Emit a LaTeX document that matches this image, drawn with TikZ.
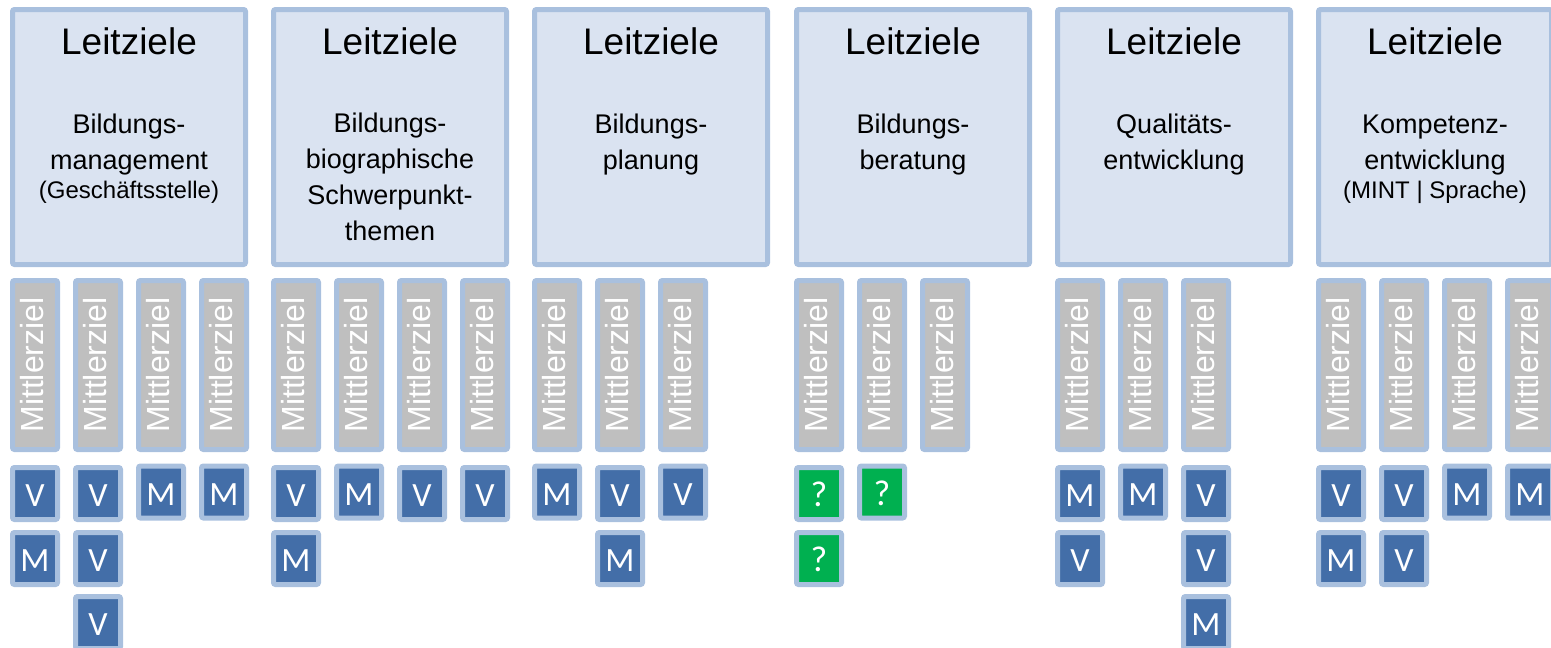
\documentclass[tikz,border=0pt]{standalone}
\usepackage{fontspec}
\setmainfont{Liberation Sans}
\newfontfamily\calib{Carlito}

\definecolor{bord}{RGB}{169,192,222}
\definecolor{leitfill}{RGB}{218,227,241}
\definecolor{zielgray}{RGB}{191,191,191}
\definecolor{massblue}{RGB}{67,110,168}
\definecolor{fragegreen}{RGB}{0,176,80}

\tikzset{
  leit/.style={draw=bord, line width=5pt, fill=leitfill, rounded corners=2pt, minimum width=233pt, minimum height=255pt, inner sep=0pt},
  titel/.style={anchor=base, inner sep=0pt, font=\fontsize{37}{44}\selectfont},
  untertitel/.style={anchor=base, inner sep=0pt, align=center, font=\fontsize{27}{36}\selectfont},
  ziel/.style={draw=bord, line width=5pt, fill=zielgray, rounded corners=2pt, rotate=90, minimum width=169pt, minimum height=45pt, inner sep=0pt, text=white, text depth=7pt, font=\fontsize{32}{38}\selectfont},
  mass/.style={draw=bord, line width=5pt, fill=massblue, rounded corners=2pt, minimum width=45pt, minimum height=52pt, inner sep=0pt, text=white, text height=26pt, text depth=0pt, font=\calib\fontsize{34}{38}\selectfont},
  frage/.style={mass, fill=fragegreen, text height=26pt, font=\calib\fontsize{36}{40}\selectfont}
}

\begin{document}
\begin{tikzpicture}[x=1pt, y=-1pt]
    \useasboundingbox (0,0) rectangle (1551,648);
    \clip (0,0) rectangle (1551,648);

    % Leitziele
    \node[leit] (L1) at (129, 137) {};
    \node[leit] (L2) at (390, 137) {};
    \node[leit] (L3) at (651, 137) {};
    \node[leit] (L4) at (913, 137) {};
    \node[leit] (L5) at (1174, 137) {};
    \node[leit] (L6) at (1435, 137) {};

    \node[titel] (T1) at (129, 54) {Leitziele};
    \node[titel] (T2) at (390, 54) {Leitziele};
    \node[titel] (T3) at (651, 54) {Leitziele};
    \node[titel] (T4) at (913, 54) {Leitziele};
    \node[titel] (T5) at (1174, 54) {Leitziele};
    \node[titel] (T6) at (1435, 54) {Leitziele};

    % base = last line
    \node[untertitel] (U1) at (129, 198) {Bildungs-\\management\\[-7pt]{\fontsize{24}{29}\selectfont (Geschäftsstelle)}};
    \node[untertitel] (U2) at (390, 240) {Bildungs-\\biographische\\Schwerpunkt-\\themen};
    \node[untertitel] (U3) at (651, 169) {Bildungs-\\planung};
    \node[untertitel] (U4) at (913, 169) {Bildungs-\\beratung};
    \node[untertitel] (U5) at (1174, 169) {Qualitäts-\\entwicklung};
    \node[untertitel] (U6) at (1435, 198) {Kompetenz-\\entwicklung\\[-7pt]{\fontsize{24}{29}\selectfont (MINT | Sprache)}};

    % Mittlerziele
    \node[ziel] (Z11) at (35, 365) {Mittlerziel};
    \node[ziel] (Z12) at (98, 365) {Mittlerziel};
    \node[ziel] (Z13) at (161, 365) {Mittlerziel};
    \node[ziel] (Z14) at (224, 365) {Mittlerziel};
    \node[ziel] (Z21) at (296, 365) {Mittlerziel};
    \node[ziel] (Z22) at (359, 365) {Mittlerziel};
    \node[ziel] (Z23) at (422, 365) {Mittlerziel};
    \node[ziel] (Z24) at (485, 365) {Mittlerziel};
    \node[ziel] (Z31) at (557, 365) {Mittlerziel};
    \node[ziel] (Z32) at (620, 365) {Mittlerziel};
    \node[ziel] (Z33) at (683, 365) {Mittlerziel};
    \node[ziel] (Z41) at (819, 365) {Mittlerziel};
    \node[ziel] (Z42) at (882, 365) {Mittlerziel};
    \node[ziel] (Z43) at (945, 365) {Mittlerziel};
    \node[ziel] (Z51) at (1080, 365) {Mittlerziel};
    \node[ziel] (Z52) at (1143, 365) {Mittlerziel};
    \node[ziel] (Z53) at (1206, 365) {Mittlerziel};
    \node[ziel] (Z61) at (1341, 365) {Mittlerziel};
    \node[ziel] (Z62) at (1404, 365) {Mittlerziel};
    \node[ziel] (Z63) at (1467, 365) {Mittlerziel};
    \node[ziel] (Z64) at (1530, 365) {Mittlerziel};

    % Massnahmen
    \node[mass] (A111) at (35, 493.5) {V};
    \node[mass] (A112) at (35, 558.5) {M};
    \node[mass] (A121) at (98, 493.5) {V};
    \node[mass] (A122) at (98, 558.5) {V};
    \node[mass] (A123) at (98, 622.5) {V};
    \node[mass] (A131) at (161, 492) {M};
    \node[mass] (A141) at (224, 492) {M};

    \node[mass] (A211) at (296, 493.5) {V};
    \node[mass] (A212) at (296, 558.5) {M};
    \node[mass] (A221) at (359, 492) {M};
    \node[mass] (A231) at (422, 493.5) {V};
    \node[mass] (A241) at (485, 493.5) {V};

    \node[mass] (A311) at (557, 492) {M};
    \node[mass] (A321) at (620, 493.5) {V};
    \node[mass] (A322) at (620, 558.5) {M};
    \node[mass] (A331) at (683, 492) {V};

    \node[frage] (A411) at (819, 493.5) {?};
    \node[frage] (A412) at (819, 558.5) {?};
    \node[frage] (A421) at (882, 492) {?};

    \node[mass] (A511) at (1080, 493.5) {M};
    \node[mass] (A512) at (1080, 558.5) {V};
    \node[mass] (A521) at (1143, 492) {M};
    \node[mass] (A531) at (1206, 493.5) {V};
    \node[mass] (A532) at (1206, 558.5) {V};
    \node[mass] (A533) at (1206, 622.5) {M};

    \node[mass] (A611) at (1341, 493.5) {V};
    \node[mass] (A612) at (1341, 558.5) {M};
    \node[mass] (A621) at (1404, 493.5) {V};
    \node[mass] (A622) at (1404, 558.5) {V};
    \node[mass] (A631) at (1467, 492) {M};
    \node[mass] (A641) at (1530, 492) {M};
\end{tikzpicture}
\end{document}
